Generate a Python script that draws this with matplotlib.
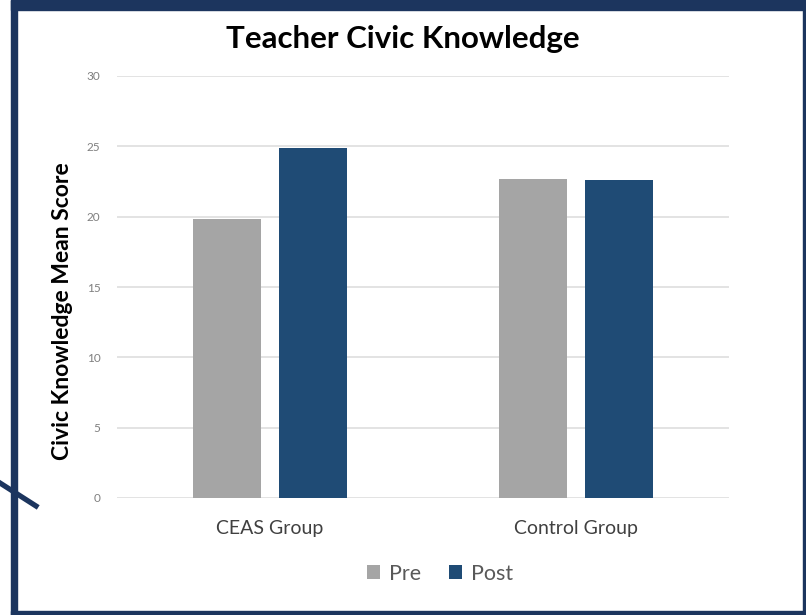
import numpy as np
import matplotlib.pyplot as plt
from matplotlib.patches import Rectangle
from matplotlib.lines import Line2D

groups = ['CEAS Group', 'Control Group']
pre_scores = [19.8, 22.7]
post_scores = [24.9, 22.6]
series_names = ['Pre', 'Post']
yticks = [0, 5, 10, 15, 20, 25, 30]

GREY = '#a5a5a5'
NAVY = '#1f4b75'
FRAME = '#1c355e'

plt.rcParams['font.family'] = ['Lato', 'DejaVu Sans']

W, H = 806, 615
fig = plt.figure(figsize=(W / 100, H / 100), dpi=100)
ax = fig.add_axes([117 / W, 1 - 498 / H, 612 / W, 422 / H])

x = np.arange(len(groups))
width = 0.222
ax.bar(x - 0.141, pre_scores, width, color=GREY, label=series_names[0], zorder=3)
ax.bar(x + 0.141, post_scores, width, color=NAVY, label=series_names[1], zorder=3)

ax.set_xlim(-0.5, 1.5)
ax.set_ylim(0, 30)
ax.set_yticks(yticks)
ax.set_yticklabels([str(t) for t in yticks], fontsize=8.5, color='#7f7f7f')
ax.set_xticks(x)
ax.set_xticklabels(groups, fontsize=14, color='#404040')
ax.tick_params(axis='y', length=0, pad=12)
ax.tick_params(axis='x', length=0, pad=16)
ax.grid(axis='y', color='#dedede', linewidth=1.2, zorder=0)
for s in ax.spines.values():
    s.set_visible(False)

ax.set_ylabel('Civic Knowledge Mean Score', fontsize=16.5, fontweight='bold', color='black')
# label sits a bit below the middle of the plot area in the original
ax.yaxis.set_label_coords(-0.072, 0.443)
fig.text(403 / W, 1 - 39 / H, 'Teacher Civic Knowledge', ha='center', va='center',
         fontsize=22.5, fontweight='bold', color='black')

ax.legend(loc='upper center', bbox_to_anchor=(0.528, -0.11), ncol=2, frameon=False,
          fontsize=15.5, handlelength=0.6, handleheight=0.6, handletextpad=0.4,
          columnspacing=1.3, labelcolor='#595959')

# frame around the slide
def px_rect(x0, y0, x1, y1):
    fig.add_artist(Rectangle((x0 / W, 1 - y1 / H), (x1 - x0) / W, (y1 - y0) / H,
                             transform=fig.transFigure, color=FRAME, zorder=10))

px_rect(11, 0, W, 10)
px_rect(11, 0, 17, 615)
px_rect(803, 0, W, 615)
px_rect(11, 611, W, 615)
fig.add_artist(Line2D([0, 36 / W], [1 - 483 / H, 1 - 506 / H], transform=fig.transFigure,
                      color=FRAME, linewidth=3.8, zorder=10))

fig.savefig('out.png', dpi=100)
